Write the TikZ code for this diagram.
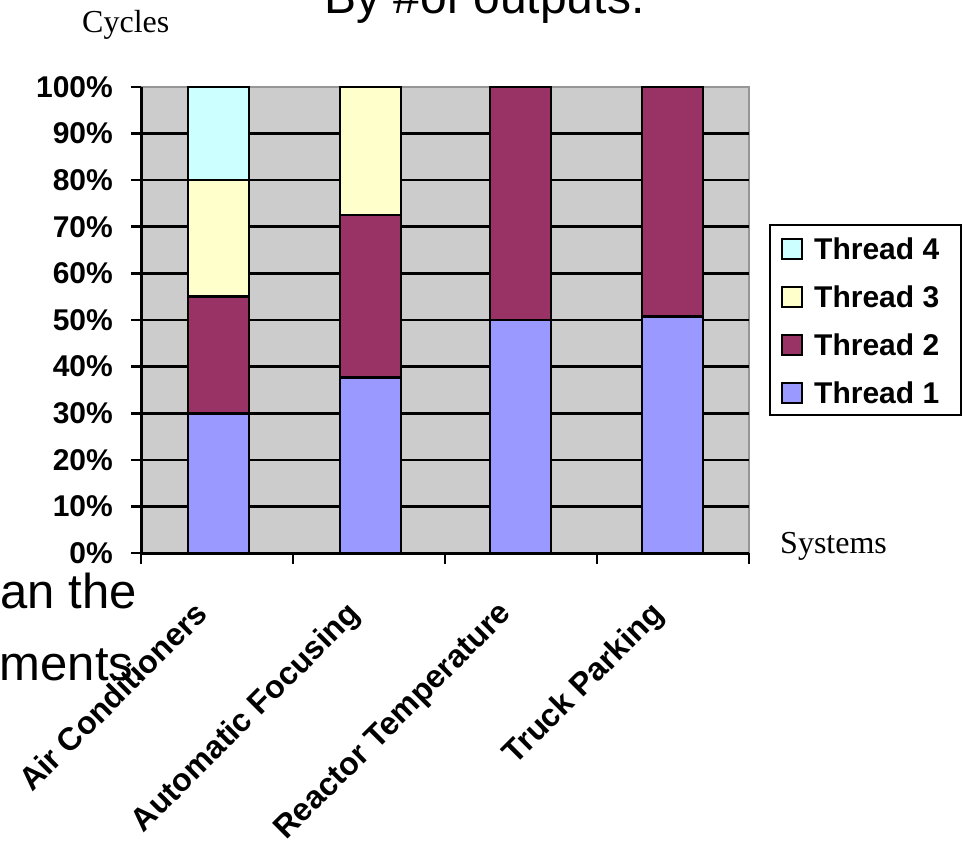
\documentclass[tikz,border=0pt]{standalone}
\usepackage{fontspec}
\setmainfont{Liberation Serif}
\newfontfamily\arialfont{Liberation Sans}

\definecolor{plotgray}{RGB}{204,204,204}
\definecolor{frameline}{RGB}{150,150,150}
\definecolor{threadone}{RGB}{153,153,255}
\definecolor{threadtwo}{RGB}{153,51,102}
\definecolor{threadthree}{RGB}{255,255,204}
\definecolor{threadfour}{RGB}{204,255,255}

\tikzset{
  ticklabel/.style={inner sep=0pt, anchor=east, font=\arialfont\bfseries\fontsize{30}{36}\selectfont},
  catlabel/.style={inner sep=0pt, anchor=north east, rotate=45, font=\arialfont\bfseries\fontsize{32}{38}\selectfont},
  legendtext/.style={inner sep=0pt, anchor=west, font=\arialfont\bfseries\fontsize{30}{36}\selectfont},
  axistitle/.style={inner sep=0pt, anchor=base west, font=\fontsize{32}{38}\selectfont},
  slidetext/.style={inner sep=0pt, font=\arialfont\fontsize{49}{58}\selectfont},
  gridline/.style={line width=2.6pt, black},
  swatch/.style={draw=black, line width=2.2pt, minimum size=20pt, inner sep=0pt},
}

% percentage value -> vertical position (0% at 553, 100% at 87)
\newcommand\pcy[1]{553-4.66*(#1)}

% stacked bar: left edge, then the upper ends of threads 1 to 4
\newcommand\stackbar[5]{%
  \fill[threadone]   (#1,{\pcy{0}})  rectangle ({#1+61},{\pcy{#2}});
  \fill[threadtwo]   (#1,{\pcy{#2}}) rectangle ({#1+61},{\pcy{#3}});
  \fill[threadthree] (#1,{\pcy{#3}}) rectangle ({#1+61},{\pcy{#4}});
  \fill[threadfour]  (#1,{\pcy{#4}}) rectangle ({#1+61},{\pcy{#5}});
  \foreach \v in {#2,#3,#4,#5}
    \draw[line width=2.6pt] (#1,{\pcy{\v}}) -- ({#1+61},{\pcy{\v}});
  \draw[line width=2.6pt] (#1,{\pcy{0}}) -- (#1,{\pcy{#5}}) -- ({#1+61},{\pcy{#5}}) -- ({#1+61},{\pcy{0}});
}

\begin{document}
\begin{tikzpicture}[x=1pt,y=-1pt]
\useasboundingbox (0,0) rectangle (963,842);

% text of the slide lying behind the chart
\node[slidetext, anchor=base west, font=\arialfont\fontsize{48}{58}\selectfont] (title) at (324,14) {By \#of outputs.};
\node[slidetext, anchor=base east] (lineone) at (137,608) {an the};
\node[slidetext, anchor=base east] (linetwo) at (147,680) {ments.};

% plot area
\fill[plotgray] (141,87) rectangle (749,553);
\draw[frameline, line width=2pt] (141,87) -- (749,87) -- (749,553);

% horizontal gridlines
\foreach \p in {10,20,...,90}
  \draw[gridline] (141,{\pcy{\p}}) -- (749,{\pcy{\p}});

% stacked bars
\stackbar{188}{30}{55}{80}{100}
\stackbar{340}{37.6}{72.5}{100}{100}
\stackbar{490}{50}{100}{100}{100}
\stackbar{642}{50.8}{100}{100}{100}

% axes
\draw[line width=3pt] (141,87) -- (141,553) -- (749,553);
\foreach \p in {0,10,...,100}
  \draw[line width=2.6pt] (131,{\pcy{\p}}) -- (141,{\pcy{\p}});
\foreach \x in {141,293,445,597,749}
  \draw[line width=2.6pt] (\x,553) -- (\x,564);

% value labels
\foreach \p in {0,10,...,100}
  \node[ticklabel] (pct\p) at (113,{\pcy{\p}}) {\p\%};

% category labels
\node[catlabel] (catac) at (193,599) {Air Conditioners};
\node[catlabel] (cataf) at (345,599) {Automatic Focusing};
\node[catlabel] (catrt) at (497,599) {Reactor Temperature};
\node[catlabel] (cattp) at (649,599) {Truck Parking};

% axis titles
\node[axistitle] (ytitle) at (82,33) {Cycles};
\node[axistitle] (xtitle) at (780,553) {Systems};

% legend
\node[draw=black, line width=2.4pt, minimum width=191pt, minimum height=190pt, inner sep=0pt, anchor=north west] (legend) at (769,224) {};
\node[swatch, fill=threadfour]  (sw4) at (792,249) {};
\node[swatch, fill=threadthree] (sw3) at (792,297) {};
\node[swatch, fill=threadtwo]   (sw2) at (792,345) {};
\node[swatch, fill=threadone]   (sw1) at (792,393) {};
\node[legendtext] (lg4) at (814,249) {Thread 4};
\node[legendtext] (lg3) at (814,297) {Thread 3};
\node[legendtext] (lg2) at (814,345) {Thread 2};
\node[legendtext] (lg1) at (814,393) {Thread 1};
\end{tikzpicture}
\end{document}
